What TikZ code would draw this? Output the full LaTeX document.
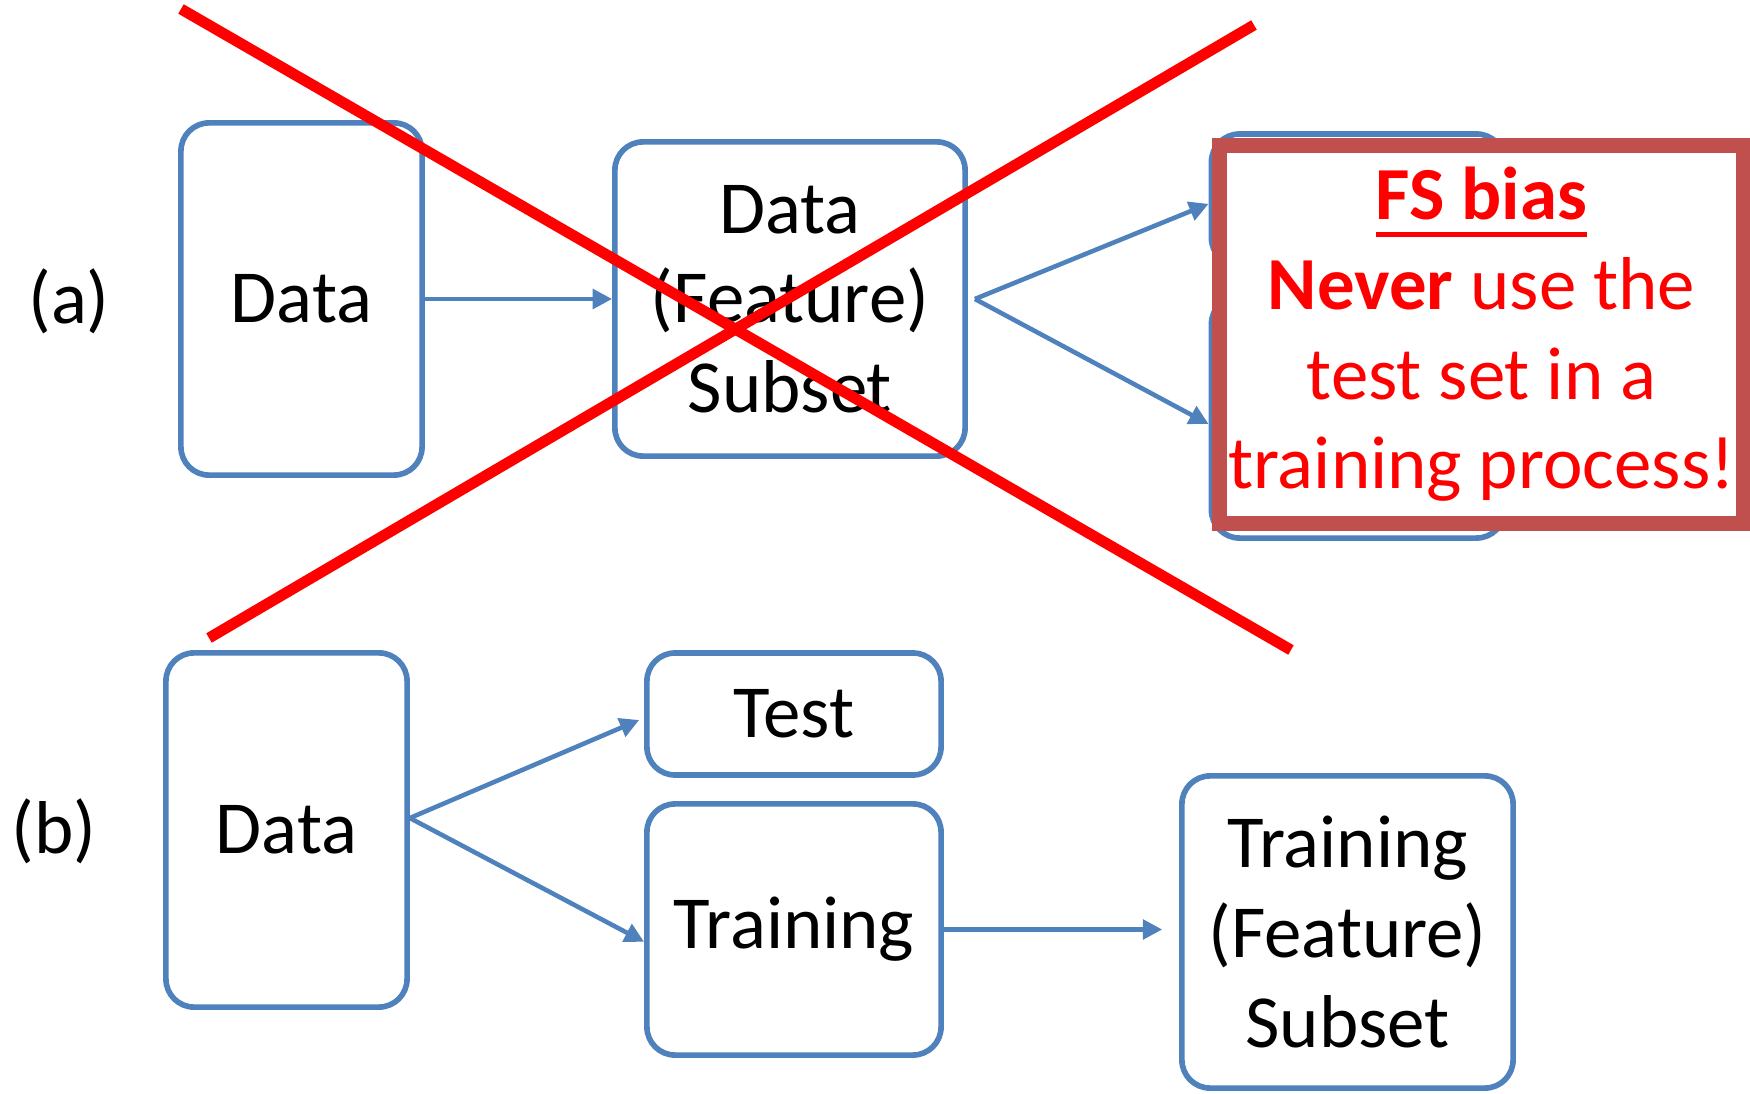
\documentclass[tikz,border=0pt]{standalone}
\usepackage{fontspec}
\setmainfont{Carlito}
\usepackage{xcolor}
\usetikzlibrary{arrows.meta,positioning,calc}

\definecolor{boxblue}{RGB}{79,129,189}
\definecolor{warnred}{RGB}{192,80,77}

\newsavebox{\biasbox}
\newcommand{\biasuline}[1]{\sbox{\biasbox}{#1}%
  \rlap{\rule[-4.8pt]{\wd\biasbox}{1.4pt}}\usebox{\biasbox}}

\begin{document}
\begin{tikzpicture}[
  x=0.01cm, y=-0.01cm,
  >={Triangle[length=5.5pt,width=5.5pt]},
  font=\fontsize{21.3pt}{25.5pt}\selectfont,
  blockbox/.style 2 args={draw=boxblue, line width=1.6pt, rounded corners=8pt,
               fill=white, align=center, inner sep=0pt,
               minimum width=#1, minimum height=#2},
  warnbox/.style={draw=warnred, line width=4.3pt, fill=white, text=red,
               align=center, inner sep=0pt},
  flow/.style={->, draw=boxblue, fill=boxblue, line width=1.3pt},
  crossline/.style={red, line width=3.1pt},
]
  \useasboundingbox (0,0) rectangle (1750,1094);

  % (a): selection on the whole data
  \node (lbla) at (69,301) {(a)};
  \node[blockbox={2.41cm}{3.52cm}] (dataa) at (301.5,299) {Data};
  \node[blockbox={3.50cm}{3.14cm}] (fsa) at (790,299) {Data\\(Feature)\\Subset};
  \node[blockbox={2.93cm}{1.32cm}] (testa) at (1358,200) {};
  \node[blockbox={2.93cm}{2.42cm}] (traina) at (1358,417) {};

  \draw[flow] (dataa.east) -- (fsa.west);
  \draw[flow] ([xshift=2pt]fsa.east) -- ([yshift=-1.1pt]testa.west);
  \draw[flow] ([xshift=2pt]fsa.east) -- ([yshift=-2pt]traina.west);

  % warning over the split
  \node[warnbox, minimum width=5.23cm, minimum height=3.77cm] (bias) at (1481.5,334.5)
    {\textbf{\biasuline{FS bias}}\\\textbf{Never} use the\\test set in a\\training process!};

  % (b): split first, then select on training
  \node (lblb) at (54,831) {(b)};
  \node[blockbox={2.41cm}{3.54cm}] (datab) at (286.5,830) {Data};
  \node[blockbox={2.94cm}{1.22cm}] (testb) at (794,714) {Test};
  \node[blockbox={2.94cm}{2.51cm}] (trainb) at (794,929.5) {Training};
  \node[blockbox={3.31cm}{3.12cm}] (fsb) at (1347.5,932) {Training\\(Feature)\\Subset};

  \draw[flow] ([yshift=3.4pt]datab.east) -- ([xshift=-1.4pt,yshift=-1.7pt]testb.west);
  \draw[flow] ([yshift=3.4pt]datab.east) -- ([yshift=-3.5pt]trainb.west);
  \draw[flow] (trainb.east) -- ($(fsb.west |- trainb.east)+(-4.8pt,0)$);

  % cross over (a)
  \coordinate (xa1) at (181,9);
  \coordinate (xa2) at (1291,650);
  \coordinate (xb1) at (1254,25);
  \coordinate (xb2) at (209,638);
  \draw[crossline] (xa1) -- (xa2);
  \draw[crossline] (xb1) -- (xb2);
\end{tikzpicture}
\end{document}
